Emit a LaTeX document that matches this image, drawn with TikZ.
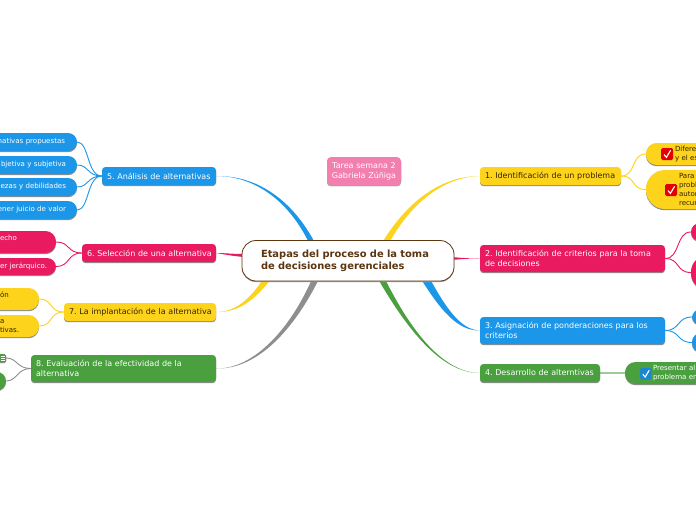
\documentclass[tikz,border=0pt]{standalone}
\usepackage{fontspec}
\setmainfont{DejaVu Sans}
\usetikzlibrary{shadows,calc}
\AtBeginDocument{\frenchspacing}
\pgfdeclarelayer{bg}
\pgfsetlayers{bg,main}
\definecolor{cy}{HTML}{FDD31C}
\definecolor{cp}{HTML}{E91A5F}
\definecolor{cb}{HTML}{1C96E8}
\definecolor{cg}{HTML}{4AA03F}
\definecolor{cgr}{HTML}{8E8E8E}
\definecolor{cbrown}{HTML}{5A3510}
\definecolor{ctop}{HTML}{F27FAE}
\definecolor{cdark}{HTML}{332600}
\tikzset{
  x=1pt,y=-1pt,
  boxbase/.style={rectangle,inner xsep=0pt,inner ysep=0pt,align=left,
    drop shadow={shadow xshift=0pt,shadow yshift=-1.2pt,fill=black!45,opacity=1}},
  branch/.style={boxbase,rounded corners=3.5pt,font=\fontsize{8}{10}\selectfont},
  leaf/.style={boxbase,rounded corners=9pt,font=\fontsize{7.05}{9}\selectfont},
  ybox/.style={fill=cy,text=cdark},
  pbox/.style={fill=cp,text=white},
  bbox/.style={fill=cb,text=white},
  gbox/.style={fill=cg,text=white},
  thin link/.style={line width=.9pt,line cap=round},
}
% name, style, x0, x1, y0, y1, text
\newcommand\bx[7]{%
  \pgfmathsetmacro\bW{#4-(#3)}\pgfmathsetmacro\bH{#6-(#5)}%
  \pgfmathsetmacro\bX{(#3+#4)/2}\pgfmathsetmacro\bY{(#5+#6)/2}%
  \node[#2,minimum width=\bW pt,minimum height=\bH pt,text width=\bW pt] (#1) at (\bX,\bY) {#7};}
\newcommand\ind[1]{\hspace*{#1pt}}
% colour, x, y, size
\newcommand\chk[4]{%
  \begin{scope}[shift={(#2,#3)}]
  \fill[#1,rounded corners=1.5pt] (0,0) rectangle (#4,#4);
  \draw[white,line width=1.1pt] (.25*#4,.55*#4) -- (.45*#4,.78*#4) -- (.8*#4,.2*#4);
  \end{scope}}
\begin{document}
\begin{tikzpicture}
\useasboundingbox (0,0) rectangle (696,520);
\begin{scope}
\clip (0,0) rectangle (696,520);
% central and note
\node[rectangle,rounded corners=14pt,draw=cbrown,line width=.8pt,fill=white,
  minimum width=212pt,minimum height=40.5pt,text width=212pt,inner xsep=0pt,inner ysep=0pt,align=left,
  text=cbrown,font=\bfseries\fontsize{9.9}{12}\selectfont,
  drop shadow={shadow xshift=0pt,shadow yshift=-1pt,fill=cbrown!50,opacity=1}]
  (center) at (348,260.75) {\ind{19}Etapas del proceso de la toma\\\ind{19}de decisiones gerenciales};
\bx{note}{branch,fill=ctop,text=white,rounded corners=4pt,align=center,drop shadow={shadow xshift=0pt,shadow yshift=-1.2pt,fill=black!35,opacity=1}}{327}{401}{157}{185}{Tarea semana 2\\Gabriela Zúñiga}
% right branches
\bx{b1}{branch,ybox}{480}{621}{167}{185}{\ind{5}1. Identificación de un problema}
\bx{b2}{branch,pbox}{480}{665}{245}{272}{\ind{5}2. Identificación de criterios para la toma\\\ind{5}de decisiones}
\bx{b3}{branch,bbox}{480}{665}{317}{344}{\ind{5}3. Asignación de ponderaciones para los\\\ind{5}criterios}
\bx{b4}{branch,gbox}{480}{600}{364}{382}{\ind{5}4. Desarrollo de alterntivas}
% left branches
\bx{b5}{branch,bbox}{102}{216}{167}{185}{\ind{5}5. Análisis de alternativas}
\bx{b6}{branch,pbox}{82}{216}{244}{262}{\ind{5}6. Selección de una alternativa}
\bx{b7}{branch,ybox}{64}{216}{303}{321}{\ind{5}7. La implantación de la alternativa}
\bx{b8}{branch,gbox}{31}{216}{355}{382}{\ind{5}8. Evaluación de la efectividad de la\\\ind{5}alternativa}
% right leaves
\bx{l1a}{leaf,ybox,rounded corners=10.5pt}{646}{760}{143}{165}{\ind{29}Difere\\\ind{29}y el es}
\bx{l1b}{leaf,ybox,rounded corners=19pt}{646}{760}{170}{209}{\ind{33}Para\\\ind{33}probl\\\ind{33}autor\\\ind{33}recur}
\bx{l2a}{leaf,pbox}{691}{760}{223}{241}{}
\bx{l2b}{leaf,pbox,rounded corners=17pt}{691}{760}{255}{290}{}
\bx{l3a}{leaf,bbox}{692}{760}{309}{325}{}
\bx{l3b}{leaf,bbox}{692}{760}{333}{352}{}
\bx{l4}{leaf,gbox,rounded corners=10.5pt}{625}{760}{362}{384}{\ind{28}Presentar al\\\ind{28}problema en}
% left leaves
\bx{l5a}{leaf,bbox,align=right}{-30}{77}{133}{151}{nativas propuestas\ind{12}}
\bx{l5b}{leaf,bbox,align=right}{-30}{77}{156}{174}{bjetiva y subjetiva\ind{11}}
\bx{l5c}{leaf,bbox,align=right}{-30}{77}{178}{196}{lezas y debilidades\ind{11}}
\bx{l5d}{leaf,bbox,align=right}{-30}{77}{201}{219}{ener juicio de valor\ind{11}}
\bx{l6a}{leaf,pbox,rounded corners=10.5pt}{-40}{56}{231}{253}{\ind{40}echo\\\ind{40}\phantom{x}}
\bx{l6b}{leaf,pbox}{-40}{56}{258}{275}{\ind{40}er jerárquico.}
\bx{l7a}{leaf,ybox,rounded corners=10.5pt}{-40}{39}{288}{310}{\ind{40}ón\\\ind{40}\phantom{x}}
\bx{l7b}{leaf,ybox,rounded corners=10.5pt}{-40}{39}{315}{337}{\ind{40}a\\\ind{40}tivas.}
\bx{l8a}{leaf,gbox,rounded corners=1.5pt}{-20}{6}{354}{362}{}
\bx{l8b}{leaf,gbox}{-20}{6}{372}{390}{}
\draw[white,line width=.7pt] (.5,356) -- (5,356) (.5,358) -- (5,358) (.5,360) -- (5,360);
% icons
\chk{red!90!black}{661}{148}{12}
\chk{red!90!black}{665}{184}{12}
\chk{cb!90!black}{640}{368}{11.5}
\end{scope}
\begin{pgfonlayer}{bg}
\fill[white] (0,0) rectangle (696,520);
% tapered main links
\coordinate (c5a) at (309,243); \coordinate (c5b) at (315,243);
\coordinate (c1a) at (382,243); \coordinate (c1b) at (389,243);
\coordinate (c7a) at (263,279); \coordinate (c7b) at (271,279);
\coordinate (c8a) at (312,279); \coordinate (c8b) at (319,279);
\coordinate (c4a) at (378,279); \coordinate (c4b) at (385,279);
\coordinate (c3a) at (421,279); \coordinate (c3b) at (430,279);
\fill[cb] (b5.east) .. controls (258,176) and (291,205) .. (c5a) -- (c5b) .. controls (294,203) and (260,175.5) .. (b5.east);
\fill[cy] (b1.west) .. controls (440,176) and (406,203) .. (c1a) -- (c1b) .. controls (410,205) and (442,177) .. (b1.west);
\fill[cy] (b7.east) .. controls (236,312) and (251,298) .. (c7a) -- (c7b) .. controls (254,301) and (238,312.5) .. (b7.east);
\fill[cgr] (b8.east) .. controls (255,369) and (291,327) .. (c8a) -- (c8b) .. controls (294,329) and (258,369.5) .. (b8.east);
\fill[cg] (b4.west) .. controls (440,373) and (406,327) .. (c4a) -- (c4b) .. controls (410,329) and (442,372.5) .. (b4.west);
\fill[cb] (b3.west) .. controls (458,331) and (441,311) .. (c3a) -- (c3b) .. controls (445,306) and (460,330) .. (b3.west);
\fill[cp] (b6.east) .. controls (225,253) and (232,254) .. (244,254) -- (244,257) .. controls (232,256) and (225,254.5) .. (b6.east);
\fill[cp] (b2.west) .. controls (470,258.5) and (462,258) .. (452,257) -- (452,260) .. controls (462,259) and (470,258.5) .. (b2.west);
% thin sub-links
\foreach \t in {l1a,l1b}{\draw[thin link,cy] (b1.east) .. controls +(15,0) and ($(\t.west)+(-15,0)$) .. (\t.west);}
\foreach \t in {l2a,l2b}{\draw[thin link,cp] (b2.east) .. controls +(15,0) and ($(\t.west)+(-15,0)$) .. (\t.west);}
\foreach \t in {l3a,l3b}{\draw[thin link,cb] (b3.east) .. controls +(15,0) and ($(\t.west)+(-15,0)$) .. (\t.west);}
\draw[cg!55!white,line width=1.5pt] (b4.east) -- (l4.west);
\foreach \t in {l5a,l5b,l5c,l5d}{\draw[thin link,cb] (b5.west) .. controls +(-15,0) and ($(\t.east)+(12,0)$) .. (\t.east);}
\foreach \t in {l6a,l6b}{\draw[thin link,cp] (b6.west) .. controls +(-15,0) and ($(\t.east)+(14,0)$) .. (\t.east);}
\foreach \t in {l7a,l7b}{\draw[thin link,cy] (b7.west) .. controls +(-15,0) and ($(\t.east)+(14,0)$) .. (\t.east);}
\foreach \t in {l8a,l8b}{\draw[thin link,cgr] (b8.west) .. controls +(-14,0) and ($(\t.east)+(11,0)$) .. (\t.east);}
\end{pgfonlayer}
\end{tikzpicture}
\end{document}
